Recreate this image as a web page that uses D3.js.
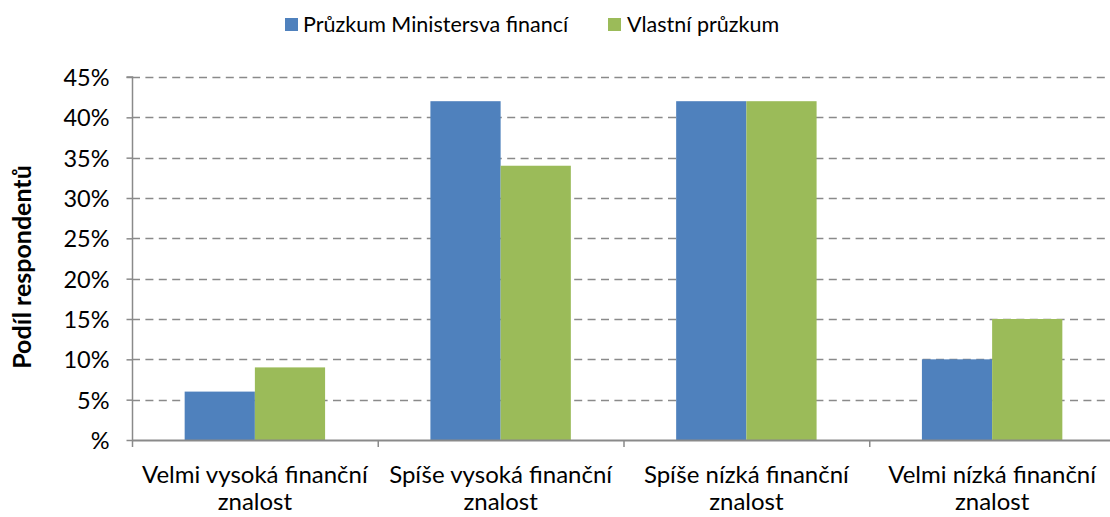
<!DOCTYPE html>
<html><head><meta charset="utf-8">
<script src="https://cdn.jsdelivr.net/npm/d3@7"></script>
<style>body{margin:0;background:#fff}svg{display:block}text{font-family:Lato,"Open Sans",sans-serif;fill:#000}</style>
</head><body><svg id="c" width="1110" height="517"></svg>
<script>
const categories = [["Velmi vysoká finanční","znalost"],["Spíše vysoká finanční","znalost"],["Spíše nízká finanční","znalost"],["Velmi nízká finanční","znalost"]];
const seriesNames = ["Průzkum Ministersva financí","Vlastní průzkum"];
const ministry = [6, 42, 42, 10];
const own = [9, 34, 42, 15];
const yTicks = [0,5,10,15,20,25,30,35,40,45];
const yTickLabels = ["%","5%","10%","15%","20%","25%","30%","35%","40%","45%"];
const colors = ["#4F81BD","#9BBB59"];

const svg = d3.select("#c");
const x0 = 132, x1 = 1115, yTop = 77, yBot = 440;
const x = d3.scaleBand().domain(d3.range(categories.length)).range([x0,x1]).paddingInner(0).paddingOuter(0);
const y = d3.scaleLinear().domain([0,45]).range([yBot,yTop]);
const bw = x.bandwidth()/3.5;
const xs = d3.scaleBand().domain([0,1]).range([0.75*bw, 2.75*bw]);

// gridlines
svg.append("g").selectAll("line").data(yTicks.filter(d=>d>0)).join("line")
  .attr("x1",x0).attr("x2",1110).attr("y1",d=>Math.round(y(d))+0.5).attr("y2",d=>Math.round(y(d))+0.5)
  .attr("stroke","#8a8a8a").attr("stroke-width",1.5).attr("stroke-dasharray","8,5.4");

// bars
const data = [ministry, own];
data.forEach((vals,si)=>{
  svg.append("g").selectAll("rect").data(vals).join("rect")
    .attr("x",(d,i)=>x(i)+xs(si)).attr("width",xs.bandwidth())
    .attr("y",d=>y(d)).attr("height",d=>yBot-y(d)).attr("fill",colors[si]);
});

// y axis
const ya = d3.axisLeft(y).tickValues(yTicks).tickFormat((d,i)=>yTickLabels[i]).tickSize(6).tickPadding(17);
const gy = svg.append("g").attr("transform",`translate(${x0+0.5},0)`).call(ya);
gy.select(".domain").attr("stroke","#8a8a8a").attr("stroke-width",1.5).attr("d",`M-6,${yTop}H0V${yBot}`);
gy.selectAll(".tick line").attr("stroke","#8a8a8a").attr("stroke-width",1.5);
gy.selectAll(".tick text").style("font-size","23.5px").attr("dy","0.36em").style("font-family","Lato");

// x axis
svg.append("line").attr("x1",x0).attr("x2",1110).attr("y1",yBot+0.5).attr("y2",yBot+0.5).attr("stroke","#8a8a8a").attr("stroke-width",2);
svg.append("g").selectAll("line").data(d3.range(categories.length)).join("line")
  .attr("x1",i=>x(i)+0.5).attr("x2",i=>x(i)+0.5).attr("y1",yBot).attr("y2",yBot+7)
  .attr("stroke","#8a8a8a").attr("stroke-width",1.5);
const xl = svg.append("g").selectAll("text").data(categories).join("text")
  .attr("x",(d,i)=>x(i)+x.bandwidth()/2).attr("y",483).attr("text-anchor","middle").style("font-size","24px");
xl.selectAll("tspan").data(d=>d).join("tspan").attr("x",function(){return this.parentNode.getAttribute("x");})
  .attr("dy",(d,i)=>i?27:0).text(d=>d);

// y title
svg.append("text").attr("transform","translate(31,267) rotate(-90)").attr("text-anchor","middle")
  .style("font-size","25px").style("font-weight","bold").text("Podíl respondentů");

// legend
const leg = [{n:seriesNames[0],c:colors[0],x:285,tx:303},{n:seriesNames[1],c:colors[1],x:608,tx:627}];
leg.forEach(l=>{
  svg.append("rect").attr("x",l.x).attr("y",18).attr("width",13).attr("height",13).attr("fill",l.c);
  svg.append("text").attr("x",l.tx).attr("y",32).style("font-size","21.5px").text(l.n);
});
</script></body></html>
